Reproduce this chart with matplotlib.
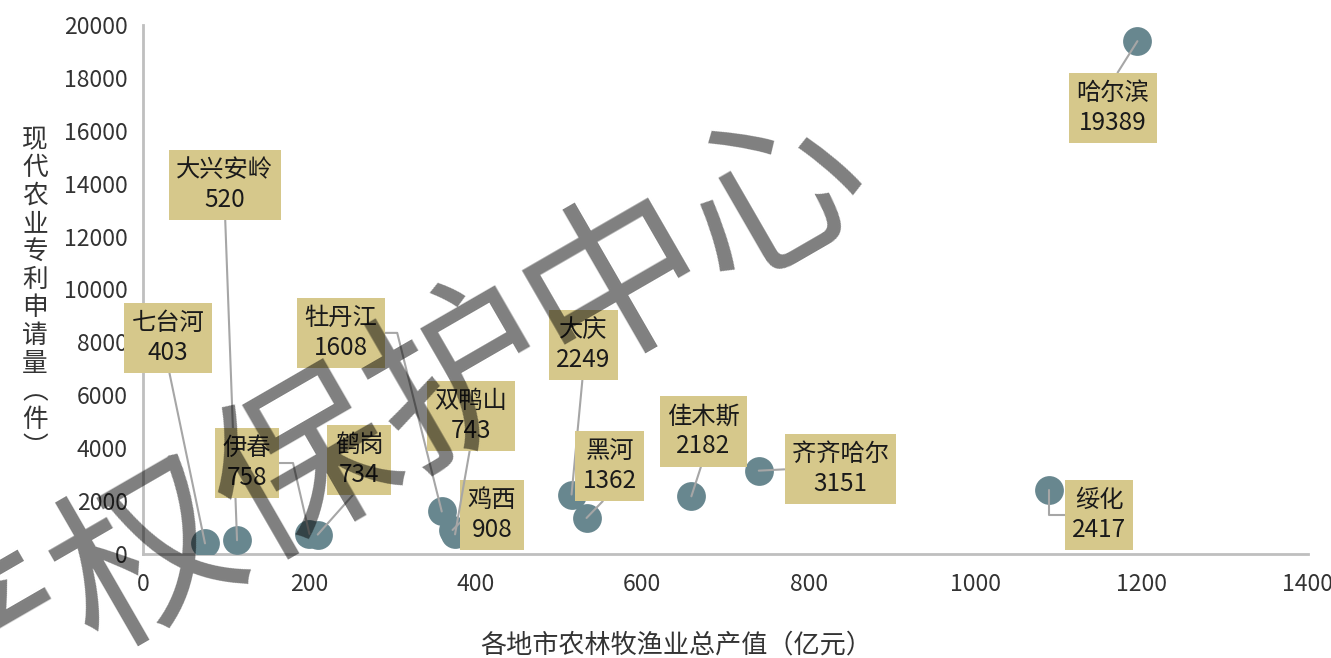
import numpy as np
import matplotlib
matplotlib.use('Agg')
import matplotlib.pyplot as plt

plt.rcParams['font.family'] = ['Noto Sans CJK SC', 'DejaVu Sans']

# data
cities = ['七台河', '大兴安岭', '伊春', '鹤岗', '牡丹江', '鸡西', '双鸭山',
          '大庆', '黑河', '佳木斯', '齐齐哈尔', '绥化', '哈尔滨']
output_value = [74.5, 113, 200, 210, 359, 372, 375, 515, 533, 659, 740, 1089, 1195]
patents = [403, 520, 758, 734, 1608, 908, 743, 2249, 1362, 2182, 3151, 2417, 19389]

# label placement (data coords) and leader style
label_pos = [(30, 8170), (98.5, 13950), (125, 3440), (259.6, 3550), (238, 8360),
             (419.4, 1475), (394, 5220), (528.8, 7900), (561, 3330), (673.4, 4640),
             (838, 3215), (1149, 1475), (1165.7, 16865)]
leader = [((0.5, 0), 'arc3'), ((0.5, 0), 'arc3'), ((1, 0.5), 'angle,angleA=0,angleB=103,rad=0'),
          ((0.5, 0), 'arc3'), ((1, 0.5), 'angle,angleA=0,angleB=104,rad=0'),
          ((0, 0.5), 'arc3'), ((0.5, 0), 'arc3'), ((0.5, 0), 'arc3'), ((0.5, 0), 'arc3'),
          ((0.5, 0), 'arc3'), ((0, 0.5), 'arc3'), ((0, 0.5), 'angle,angleA=0,angleB=90,rad=0'),
          ((0.5, 1), 'arc3')]

fig = plt.figure(figsize=(13.31, 6.58), dpi=100)
ax = fig.add_axes([143/1331, 1-554/658, (1308-143)/1331, (554-25)/658])

ax.scatter(output_value, patents, s=430, color='#68878f', zorder=3, linewidths=0)

for i, name in enumerate(cities):
    rp, cs = leader[i]
    ax.annotate(f'{name}\n{patents[i]}', xy=(output_value[i], patents[i]),
                xytext=label_pos[i], ha='center', va='center', fontsize=17.5,
                color='#1a1a1a', linespacing=1.2, zorder=5,
                bbox=dict(boxstyle='square,pad=0.3', fc='#d6c88b', ec='none'),
                arrowprops=dict(arrowstyle='-', color='#a6a6a6', lw=1.5, relpos=rp,
                                connectionstyle=cs, shrinkA=0, shrinkB=0, zorder=4))

ax.set_xlim(0, 1400)
ax.set_ylim(0, 20000)
ax.set_xticks(np.arange(0, 1401, 200))
ax.set_yticks(np.arange(0, 20001, 2000))
ax.tick_params(length=0, labelsize=16.5, labelcolor='#333333')
ax.tick_params(axis='y', pad=11)
ax.tick_params(axis='x', pad=14)
for side in ['top', 'right']:
    ax.spines[side].set_visible(False)
for side in ['left', 'bottom']:
    ax.spines[side].set_color('#bfbfbf')
    ax.spines[side].set_linewidth(2)

fig.text(676/1331, 1-645/658, '各地市农林牧渔业总产值（亿元）', ha='center', va='center',
         fontsize=18.8, color='#333333')
fig.text(35/1331, 1-294/658, '\n'.join('现代农业专利申请量︵件︶'), ha='center', va='center',
         fontsize=18.5, color='#333333', linespacing=1.1)

# watermark
fig.text(228/1331, 1-515/658, '知识产权保护中心', ha='center', va='center', rotation=30,
         rotation_mode='anchor', fontsize=130, fontweight='medium', color='black',
         alpha=0.5, zorder=10)

fig.savefig('out.png', dpi=100)
